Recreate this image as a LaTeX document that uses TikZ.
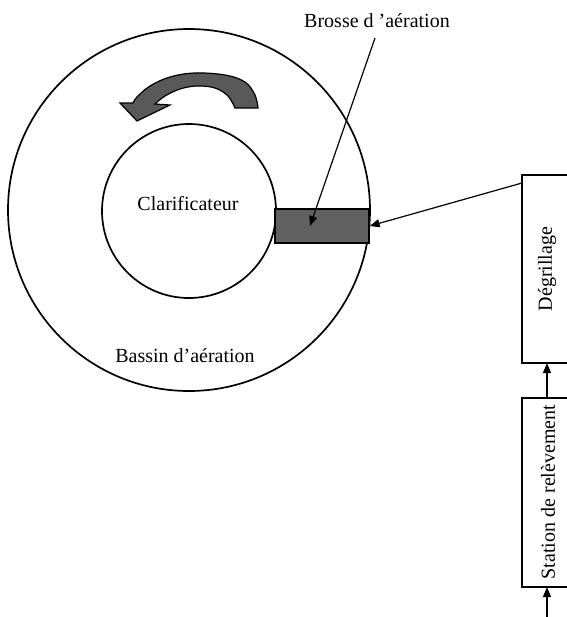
\documentclass[tikz,border=0pt]{standalone}
\usepackage{fontspec}
\setmainfont{Liberation Serif}
\usetikzlibrary{arrows.meta}
\begin{document}
\begin{tikzpicture}[x=0.5pt,y=-0.5pt,
  lbl/.style={font=\fontsize{10}{12}\selectfont},
  boxst/.style={draw,line width=0.85pt},
  conn/.style={line width=0.6pt,-{Triangle[length=5pt,width=4pt]}},
  ring/.style={draw,line width=0.85pt}]
\useasboundingbox (0,0) rectangle (567,617);
% circles
\node[ring,circle,minimum size=362*0.5pt,inner sep=0pt] (outer) at (189,210) {};
\node[ring,circle,minimum size=174*0.5pt,inner sep=0pt] (inner) at (189,211) {};
% aeration brush
\node[draw,line width=0.7pt,fill=black!62,minimum width=94*0.5pt,minimum height=34*0.5pt,inner sep=0pt] (brosse) at (322,226) {};
% curved arrow
\fill[black!65,draw=black,line width=0.6pt]
  plot[smooth,tension=0.6] coordinates {(258,108) (255,95) (245,82) (225,75) (195,73) (170,77) (150,86) (137,97) (133,103)}
  -- (120,103) -- (137,121) -- (170,105) -- (155,104)
  -- plot[smooth,tension=0.6] coordinates {(155,104) (165,96) (180,89) (197,86) (215,88) (228,96) (235,108)}
  -- cycle;
% labels
\node[lbl] (clar) at (188,204) {Clarificateur};
\node[lbl] (bassin) at (185,356) {Bassin d'aération};
\node[lbl] (brlab) at (377,21) {Brosse d 'aération};
% boxes (cut at right edge)
\draw[boxst] (575,175) -- (522,175) -- (522,363) -- (575,363);
\draw[boxst] (575,398) -- (522,398) -- (522,587) -- (575,587);
\node[lbl,rotate=90] (deg) at (547,269) {Dégrillage};
\node[lbl,rotate=90] (stat) at (548,492) {Station de relèvement};
\coordinate (degtop) at (522,183);
\coordinate (degbot) at (547,363);
\coordinate (stattop) at (547,398);
\coordinate (statbot) at (547,587);
\coordinate (inflow) at (547,617);
\coordinate (brtail) at (375,38);
\coordinate (brtip) at (310,226);
% connectors
\draw[conn] (brtail) -- (brtip);
\draw[conn] (degtop) -- (brosse.east);
\draw[conn] (stattop) -- (degbot);
\draw[conn] (inflow) -- (statbot);
\end{tikzpicture}
\end{document}
